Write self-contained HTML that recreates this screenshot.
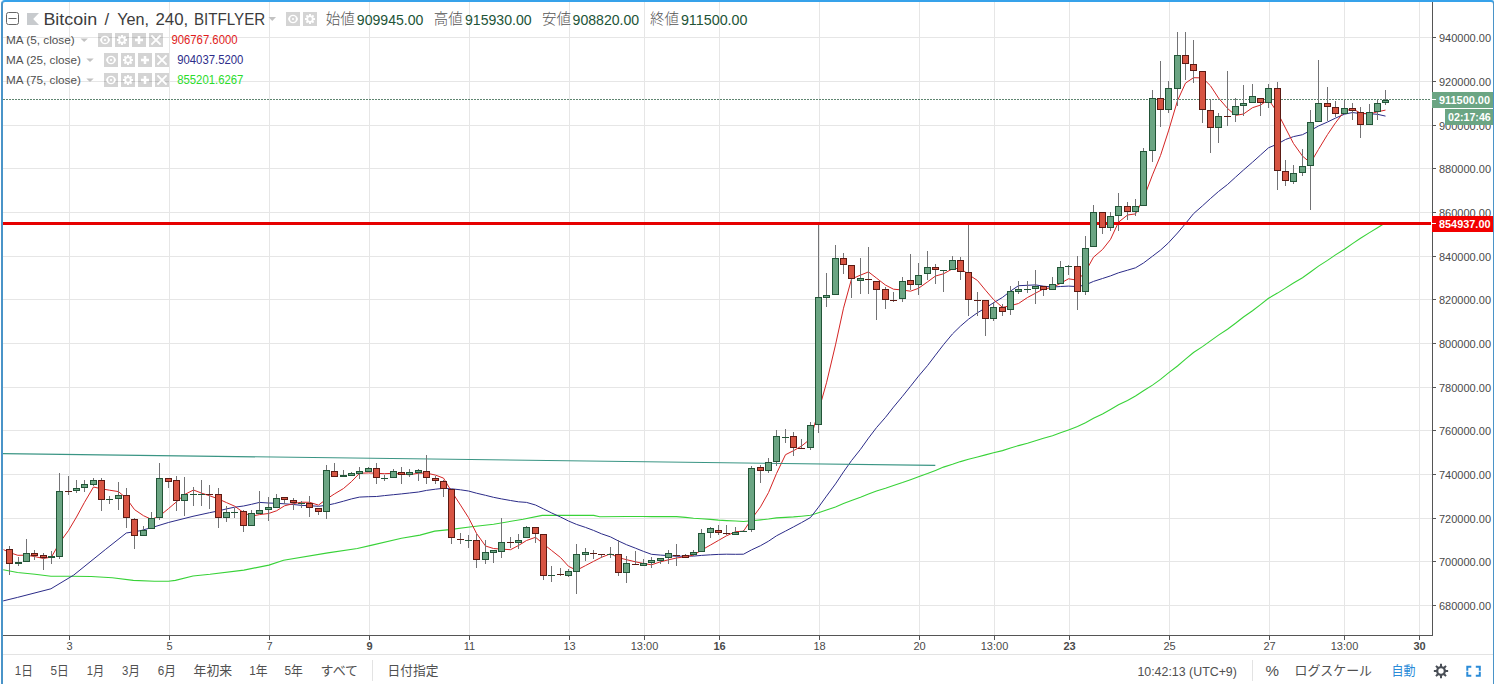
<!DOCTYPE html>
<html><head><meta charset="utf-8"><style>
html,body{margin:0;padding:0;background:#fff;width:1494px;height:684px;overflow:hidden}
#frame{position:absolute;left:1px;top:0;width:1494px;height:720px;box-sizing:border-box;border:2px solid #4a94c8;border-top-color:#36a2ea;border-radius:4px}
svg{position:absolute;left:0;top:0}
text{font-family:"Liberation Sans", "Noto Sans CJK JP", sans-serif}
.pl{font-size:11px;fill:#4a4a4a}
.tl{font-size:11px;fill:#4a4a4a}
.b{font-weight:bold}
</style></head><body>
<svg width="1494" height="684" viewBox="0 0 1494 684">
<path d="M69.5 0V635 M169.5 0V635 M269.5 0V635 M369.5 0V635 M469.5 0V635 M569.5 0V635 M644.5 0V635 M719.5 0V635 M819.5 0V635 M919.5 0V635 M994.5 0V635 M1069.5 0V635 M1169.5 0V635 M1269.5 0V635 M1344.5 0V635 M1419.5 0V635 M3 37.5H1432 M3 81.5H1432 M3 125.5H1432 M3 168.5H1432 M3 212.5H1432 M3 256.5H1432 M3 299.5H1432 M3 343.5H1432 M3 387.5H1432 M3 430.5H1432 M3 474.5H1432 M3 518.5H1432 M3 561.5H1432 M3 605.5H1432" stroke="#e6e6e6" stroke-width="1" fill="none"/>
<path d="M3.2 569.8 L17.5 572.5 L35.0 574.2 L50.9 576.3 L70.2 576.3 L91.2 576.5 L112.3 577.7 L133.3 580.4 L154.4 581.2 L168.4 581.2 L175.4 580.4 L193.0 576.0 L210.0 574.3 L243.9 570.1 L268.9 565.1 L283.6 560.3 L327.8 552.9 L357.3 548.5 L372.0 545.1 L401.5 538.2 L420.0 535.1 L434.7 531.1 L449.5 529.6 L471.5 526.7 L493.6 524.2 L523.1 519.3 L542.2 515.4 L567.3 515.4 L593.8 515.4 L599.7 516.8 L626.5 516.5 L635.5 516.5 L643.5 516.5 L651.5 516.6 L660.5 516.6 L668.5 516.6 L676.5 516.6 L685.5 517.4 L693.5 518.2 L701.5 518.8 L710.5 519.4 L718.5 520.1 L726.5 520.6 L735.5 521.0 L743.5 521.5 L751.5 520.8 L760.5 519.9 L768.5 519.0 L776.5 517.9 L785.5 517.4 L793.5 516.9 L801.5 516.2 L810.5 515.3 L818.5 512.7 L826.5 510.0 L835.5 506.9 L843.5 503.5 L851.5 500.4 L860.5 497.3 L868.5 494.0 L876.5 491.0 L885.5 488.2 L893.5 485.5 L902.5 482.6 L910.5 479.7 L918.5 476.7 L927.5 473.5 L935.5 470.4 L943.5 467.1 L952.5 464.3 L960.5 461.6 L968.5 459.3 L977.5 457.0 L985.5 454.9 L993.5 452.8 L1002.5 450.6 L1010.5 448.1 L1018.5 445.6 L1027.5 443.2 L1035.5 440.7 L1043.5 438.3 L1052.5 435.7 L1060.5 432.8 L1068.5 429.9 L1077.5 426.6 L1085.5 422.7 L1093.5 418.3 L1102.5 413.9 L1110.5 409.4 L1118.5 404.8 L1127.5 400.4 L1135.5 396.0 L1143.5 390.8 L1152.5 385.1 L1160.5 379.4 L1168.5 372.9 L1177.5 366.0 L1185.5 359.2 L1193.5 352.5 L1202.5 346.6 L1210.5 340.9 L1218.5 335.1 L1227.5 329.2 L1235.5 323.3 L1243.5 317.0 L1252.5 310.8 L1260.5 304.6 L1268.5 298.3 L1277.5 293.1 L1285.5 288.1 L1293.5 283.0 L1302.5 277.8 L1310.5 272.0 L1318.5 266.1 L1327.5 260.4 L1335.5 254.9 L1344.5 249.2 L1352.5 243.6 L1360.5 238.2 L1369.5 232.6 L1377.5 227.7 L1385.5 222.8" stroke="#38d238" stroke-width="1.1" fill="none"/>
<path d="M3.2 600.9 L17.5 597.4 L50.9 588.8 L73.7 575.1 L105.3 549.6 L126.3 533.0 L140.4 530.7 L154.4 526.8 L168.4 522.5 L193.0 516.3 L209.5 512.7 L218.5 510.9 L226.5 508.9 L234.5 507.2 L243.5 506.0 L251.5 504.3 L259.5 502.4 L268.5 503.0 L276.5 503.3 L284.5 503.8 L293.5 504.5 L301.5 505.4 L309.5 505.7 L318.5 506.3 L326.5 505.3 L334.5 503.6 L343.5 501.2 L351.5 498.9 L359.5 497.1 L368.5 496.7 L376.5 496.5 L384.5 495.6 L393.5 494.7 L401.5 493.9 L409.5 493.0 L418.5 492.0 L426.5 490.4 L435.5 489.2 L443.5 488.3 L451.5 488.8 L460.5 489.8 L468.5 491.0 L476.5 493.2 L485.5 495.3 L493.5 497.3 L501.5 498.9 L510.5 500.5 L518.5 501.8 L526.5 502.4 L535.5 505.0 L543.5 508.9 L551.5 512.9 L560.5 517.0 L568.5 521.0 L576.5 524.4 L585.5 527.4 L593.5 530.4 L601.5 533.8 L610.5 536.9 L618.5 541.0 L626.5 544.7 L635.5 548.2 L643.5 551.4 L651.5 554.3 L660.5 555.1 L668.5 555.6 L676.5 556.3 L685.5 556.1 L693.5 556.1 L701.5 555.4 L710.5 554.8 L718.5 554.4 L726.5 554.2 L735.5 554.3 L743.5 554.2 L751.5 549.9 L760.5 545.7 L768.5 541.2 L776.5 535.8 L785.5 531.1 L793.5 526.9 L801.5 522.6 L810.5 517.5 L818.5 507.2 L826.5 496.1 L835.5 483.9 L843.5 471.9 L851.5 460.6 L860.5 449.3 L868.5 438.1 L876.5 427.6 L885.5 417.3 L893.5 407.1 L902.5 396.3 L910.5 386.3 L918.5 376.2 L927.5 365.6 L935.5 355.1 L943.5 344.7 L952.5 333.9 L960.5 326.1 L968.5 319.2 L977.5 312.7 L985.5 308.0 L993.5 302.8 L1002.5 297.4 L1010.5 291.1 L1018.5 285.7 L1027.5 285.3 L1035.5 284.9 L1043.5 286.2 L1052.5 287.0 L1060.5 286.5 L1068.5 286.1 L1077.5 286.6 L1085.5 284.9 L1093.5 281.4 L1102.5 278.5 L1110.5 275.9 L1118.5 272.8 L1127.5 270.2 L1135.5 267.8 L1143.5 263.0 L1152.5 256.2 L1160.5 250.1 L1168.5 242.8 L1177.5 233.0 L1185.5 223.6 L1193.5 213.7 L1202.5 205.8 L1210.5 198.5 L1218.5 191.5 L1227.5 184.5 L1235.5 177.2 L1243.5 170.0 L1252.5 162.2 L1260.5 155.0 L1268.5 147.8 L1277.5 144.0 L1285.5 139.5 L1293.5 136.6 L1302.5 134.7 L1310.5 130.5 L1318.5 126.0 L1327.5 122.0 L1335.5 118.1 L1344.5 114.2 L1352.5 112.5 L1360.5 113.6 L1369.5 113.7 L1377.5 114.3 L1385.5 116.1" stroke="#2b2b88" stroke-width="1" fill="none"/>
<path d="M3.5 549.6 L9.5 552.5 L17.8 555.3 L26.2 555.2 L34.5 556.5 L43.5 558.5 L51.5 557.0 L59.5 542.8 L68.5 530.5 L76.5 517.0 L84.5 502.3 L93.5 487.0 L101.5 488.8 L109.5 490.2 L118.5 491.6 L126.5 498.5 L134.5 509.6 L143.5 515.7 L151.5 519.4 L159.5 516.0 L168.5 508.6 L176.5 501.8 L184.5 494.6 L193.5 490.0 L201.5 493.1 L209.5 495.7 L218.5 499.0 L226.5 502.6 L234.5 506.1 L243.5 512.5 L251.5 516.2 L259.5 514.6 L268.5 513.5 L276.5 510.8 L284.5 505.8 L293.5 503.6 L301.5 502.2 L309.5 502.3 L318.5 505.1 L326.5 499.1 L334.5 493.9 L343.5 488.5 L351.5 481.6 L359.5 473.3 L368.5 472.9 L376.5 473.3 L384.5 473.7 L393.5 473.3 L401.5 474.0 L409.5 474.8 L418.5 473.2 L426.5 473.1 L435.5 475.1 L443.5 478.1 L451.5 491.3 L460.5 505.1 L468.5 517.6 L476.5 533.4 L485.5 546.0 L493.5 548.5 L501.5 549.1 L510.5 549.7 L518.5 545.5 L526.5 540.5 L535.5 537.3 L543.5 544.0 L551.5 550.4 L560.5 557.5 L568.5 566.3 L576.5 570.3 L585.5 565.6 L593.5 561.4 L601.5 557.3 L610.5 553.8 L618.5 557.6 L626.5 559.7 L635.5 561.8 L643.5 563.5 L651.5 564.8 L660.5 561.8 L668.5 559.8 L676.5 558.0 L685.5 556.7 L693.5 555.1 L701.5 550.1 L710.5 545.0 L718.5 540.4 L726.5 535.8 L735.5 531.7 L743.5 531.2 L751.5 519.1 L760.5 506.9 L768.5 492.6 L776.5 473.5 L785.5 454.7 L793.5 450.7 L801.5 446.1 L810.5 438.8 L818.5 411.1 L826.5 382.8 L835.5 344.9 L843.5 308.2 L851.5 279.0 L860.5 275.1 L868.5 271.9 L876.5 278.1 L885.5 285.1 L893.5 289.2 L902.5 290.0 L910.5 291.2 L918.5 288.3 L927.5 281.9 L935.5 276.0 L943.5 273.8 L952.5 268.8 L960.5 268.2 L968.5 274.6 L977.5 280.5 L985.5 290.2 L993.5 299.5 L1002.5 307.4 L1010.5 305.7 L1018.5 303.5 L1027.5 297.5 L1035.5 293.2 L1043.5 288.9 L1052.5 287.6 L1060.5 283.3 L1068.5 278.8 L1077.5 280.2 L1085.5 271.7 L1093.5 257.2 L1102.5 249.5 L1110.5 239.4 L1118.5 222.2 L1127.5 215.0 L1135.5 213.9 L1143.5 198.5 L1152.5 174.9 L1160.5 155.5 L1168.5 130.9 L1177.5 100.6 L1185.5 83.1 L1193.5 77.7 L1202.5 77.9 L1210.5 85.8 L1218.5 98.0 L1227.5 108.4 L1235.5 115.4 L1243.5 114.0 L1252.5 107.7 L1260.5 105.1 L1268.5 99.5 L1277.5 112.5 L1285.5 128.1 L1293.5 143.5 L1302.5 156.1 L1310.5 162.9 L1318.5 149.4 L1327.5 134.6 L1335.5 122.8 L1344.5 111.2 L1352.5 108.7 L1360.5 113.1 L1369.5 114.0 L1377.5 111.8 L1385.5 110.1" stroke="#d42424" stroke-width="1" fill="none"/>
<path d="M3 453.6 L935.3 465.4" stroke="#3a9584" stroke-width="1.15" fill="none"/>
<path d="M3 99.5H1431" stroke="#5f8570" stroke-width="1" stroke-dasharray="2 1" fill="none"/>
<path d="M9.5 546V575 M18.5 557V566 M26.5 539V562 M34.5 550V560 M43.5 553V570 M51.5 551V564 M59.5 473V559 M68.5 476V495 M76.5 480V493 M84.5 480V492 M93.5 478V486 M101.5 478V511 M109.5 496V504 M118.5 482V510 M126.5 488V528 M134.5 518V549 M143.5 526V536 M151.5 512V529 M159.5 463V520 M168.5 478V488 M176.5 476V511 M184.5 477V516 M193.5 487V506 M201.5 480V506 M209.5 485V509 M218.5 488V528 M226.5 506V522 M234.5 508V518 M243.5 510V532 M251.5 510V526 M259.5 491V514 M268.5 497V521 M276.5 494V508 M284.5 497V504 M293.5 498V510 M301.5 501V508 M309.5 496V517 M318.5 508V515 M326.5 465V519 M334.5 463V477 M343.5 470V477 M351.5 472V475 M359.5 467V479 M368.5 467V472 M376.5 463V484 M384.5 475V481 M393.5 469V478 M401.5 467V484 M409.5 469V477 M418.5 469V481 M426.5 455V484 M435.5 476V484 M443.5 480V497 M451.5 489V544 M460.5 533V544 M468.5 535V548 M476.5 534V568 M485.5 540V564 M493.5 550V563 M501.5 518V558 M510.5 537V548 M518.5 534V549 M526.5 526V538 M535.5 527V543 M543.5 534V580 M551.5 566V582 M560.5 568V576 M568.5 569V577 M576.5 544V594 M585.5 548V561 M593.5 550V559 M601.5 554V558 M610.5 547V558 M618.5 540V576 M626.5 556V583 M635.5 551V565 M643.5 559V565 M651.5 557V568 M660.5 558V564 M668.5 550V564 M676.5 544V566 M685.5 554V558 M693.5 550V556 M701.5 529V552 M710.5 527V538 M718.5 525V535 M726.5 525V535 M735.5 527V534 M743.5 530V531 M751.5 466V532 M760.5 465V483 M768.5 458V473 M776.5 430V466 M785.5 429V443 M793.5 432V456 M801.5 439V448 M810.5 422V450 M818.5 224V433 M826.5 273V307 M835.5 245V295 M843.5 253V274 M851.5 265V298 M860.5 258V294 M868.5 247V294 M876.5 281V320 M885.5 287V309 M893.5 292V302 M902.5 277V302 M910.5 254V290 M918.5 263V295 M927.5 251V280 M935.5 264V284 M943.5 270V292 M952.5 256V270 M960.5 257V280 M968.5 224V316 M977.5 292V316 M985.5 300V336 M993.5 302V321 M1002.5 304V316 M1010.5 286V315 M1018.5 281V294 M1027.5 281V293 M1035.5 270V304 M1043.5 286V296 M1052.5 277V290 M1060.5 261V284 M1068.5 265V275 M1077.5 256V310 M1085.5 236V295 M1093.5 205V247 M1102.5 212V234 M1110.5 212V231 M1118.5 193V231 M1127.5 202V220 M1135.5 199V216 M1143.5 148V206 M1152.5 90V162 M1160.5 61V127 M1168.5 81V113 M1177.5 32V106 M1185.5 32V80 M1193.5 40V83 M1202.5 71V123 M1210.5 100V153 M1218.5 113V143 M1227.5 71V126 M1235.5 98V122 M1243.5 85V116 M1252.5 84V103 M1260.5 98V116 M1268.5 84V108 M1277.5 82V190 M1285.5 160V186 M1293.5 165V184 M1302.5 149V176 M1310.5 110V210 M1318.5 60V122 M1327.5 87V121 M1335.5 101V117 M1344.5 100V114 M1352.5 103V120 M1360.5 107V138 M1369.5 104V125 M1377.5 100V120 M1385.5 90V105" stroke="#737375" stroke-width="1" fill="none"/>
<rect x="3" y="222" width="1428" height="3" fill="#e60000"/>
<rect x="6.5" y="549.5" width="6" height="14" fill="#d75442" stroke="#5b1a13" stroke-width="1"/>
<rect x="15" y="562" width="7" height="2" fill="#225437"/>
<rect x="23.5" y="553.5" width="6" height="8" fill="#6ba583" stroke="#225437" stroke-width="1"/>
<rect x="31.5" y="553.5" width="6" height="2" fill="#d75442" stroke="#5b1a13" stroke-width="1"/>
<rect x="40.5" y="555.5" width="6" height="2" fill="#d75442" stroke="#5b1a13" stroke-width="1"/>
<rect x="48" y="556" width="7" height="2" fill="#225437"/>
<rect x="56.5" y="491.5" width="6" height="65" fill="#6ba583" stroke="#225437" stroke-width="1"/>
<rect x="65" y="491" width="7" height="1" fill="#5b1a13"/>
<rect x="73.5" y="488.5" width="6" height="2" fill="#6ba583" stroke="#225437" stroke-width="1"/>
<rect x="81.5" y="484.5" width="6" height="3" fill="#6ba583" stroke="#225437" stroke-width="1"/>
<rect x="90.5" y="480.5" width="6" height="4" fill="#6ba583" stroke="#225437" stroke-width="1"/>
<rect x="98.5" y="480.5" width="6" height="19" fill="#d75442" stroke="#5b1a13" stroke-width="1"/>
<rect x="106" y="499" width="7" height="1" fill="#225437"/>
<rect x="115.5" y="495.5" width="6" height="3" fill="#6ba583" stroke="#225437" stroke-width="1"/>
<rect x="123.5" y="495.5" width="6" height="22" fill="#d75442" stroke="#5b1a13" stroke-width="1"/>
<rect x="131.5" y="519.5" width="6" height="16" fill="#d75442" stroke="#5b1a13" stroke-width="1"/>
<rect x="140.5" y="530.5" width="6" height="5" fill="#6ba583" stroke="#225437" stroke-width="1"/>
<rect x="148.5" y="518.5" width="6" height="10" fill="#6ba583" stroke="#225437" stroke-width="1"/>
<rect x="156.5" y="478.5" width="6" height="39" fill="#6ba583" stroke="#225437" stroke-width="1"/>
<rect x="165.5" y="478.5" width="6" height="3" fill="#d75442" stroke="#5b1a13" stroke-width="1"/>
<rect x="173.5" y="480.5" width="6" height="20" fill="#d75442" stroke="#5b1a13" stroke-width="1"/>
<rect x="181.5" y="494.5" width="6" height="6" fill="#6ba583" stroke="#225437" stroke-width="1"/>
<rect x="190" y="494" width="7" height="1" fill="#225437"/>
<rect x="198" y="494" width="7" height="1" fill="#225437"/>
<rect x="206" y="494" width="7" height="1" fill="#5b1a13"/>
<rect x="215.5" y="494.5" width="6" height="23" fill="#d75442" stroke="#5b1a13" stroke-width="1"/>
<rect x="223.5" y="512.5" width="6" height="5" fill="#6ba583" stroke="#225437" stroke-width="1"/>
<rect x="231" y="512" width="7" height="1" fill="#225437"/>
<rect x="240.5" y="511.5" width="6" height="14" fill="#d75442" stroke="#5b1a13" stroke-width="1"/>
<rect x="248.5" y="513.5" width="6" height="12" fill="#6ba583" stroke="#225437" stroke-width="1"/>
<rect x="256.5" y="510.5" width="6" height="3" fill="#6ba583" stroke="#225437" stroke-width="1"/>
<rect x="265.5" y="507.5" width="6" height="2" fill="#6ba583" stroke="#225437" stroke-width="1"/>
<rect x="273.5" y="498.5" width="6" height="9" fill="#6ba583" stroke="#225437" stroke-width="1"/>
<rect x="281.5" y="497.5" width="6" height="2" fill="#d75442" stroke="#5b1a13" stroke-width="1"/>
<rect x="290.5" y="500.5" width="6" height="2" fill="#d75442" stroke="#5b1a13" stroke-width="1"/>
<rect x="298" y="503" width="7" height="1" fill="#225437"/>
<rect x="306.5" y="503.5" width="6" height="4" fill="#d75442" stroke="#5b1a13" stroke-width="1"/>
<rect x="315.5" y="508.5" width="6" height="3" fill="#d75442" stroke="#5b1a13" stroke-width="1"/>
<rect x="323.5" y="470.5" width="6" height="41" fill="#6ba583" stroke="#225437" stroke-width="1"/>
<rect x="331.5" y="471.5" width="6" height="5" fill="#d75442" stroke="#5b1a13" stroke-width="1"/>
<rect x="340" y="475" width="7" height="2" fill="#225437"/>
<rect x="348.5" y="473.5" width="6" height="2" fill="#6ba583" stroke="#225437" stroke-width="1"/>
<rect x="356.5" y="471.5" width="6" height="2" fill="#6ba583" stroke="#225437" stroke-width="1"/>
<rect x="365.5" y="468.5" width="6" height="3" fill="#6ba583" stroke="#225437" stroke-width="1"/>
<rect x="373.5" y="468.5" width="6" height="9" fill="#d75442" stroke="#5b1a13" stroke-width="1"/>
<rect x="381" y="478" width="7" height="1" fill="#225437"/>
<rect x="390.5" y="471.5" width="6" height="6" fill="#6ba583" stroke="#225437" stroke-width="1"/>
<rect x="398.5" y="472.5" width="6" height="2" fill="#d75442" stroke="#5b1a13" stroke-width="1"/>
<rect x="406.5" y="472.5" width="6" height="2" fill="#6ba583" stroke="#225437" stroke-width="1"/>
<rect x="415.5" y="470.5" width="6" height="2" fill="#6ba583" stroke="#225437" stroke-width="1"/>
<rect x="423.5" y="471.5" width="6" height="6" fill="#d75442" stroke="#5b1a13" stroke-width="1"/>
<rect x="432.5" y="478.5" width="6" height="2" fill="#d75442" stroke="#5b1a13" stroke-width="1"/>
<rect x="440.5" y="481.5" width="6" height="7" fill="#d75442" stroke="#5b1a13" stroke-width="1"/>
<rect x="448.5" y="489.5" width="6" height="48" fill="#d75442" stroke="#5b1a13" stroke-width="1"/>
<rect x="457" y="539" width="7" height="1" fill="#5b1a13"/>
<rect x="465" y="540" width="7" height="1" fill="#225437"/>
<rect x="473.5" y="540.5" width="6" height="19" fill="#d75442" stroke="#5b1a13" stroke-width="1"/>
<rect x="482.5" y="552.5" width="6" height="7" fill="#6ba583" stroke="#225437" stroke-width="1"/>
<rect x="490.5" y="550.5" width="6" height="2" fill="#6ba583" stroke="#225437" stroke-width="1"/>
<rect x="498.5" y="542.5" width="6" height="9" fill="#6ba583" stroke="#225437" stroke-width="1"/>
<rect x="507" y="542" width="7" height="1" fill="#5b1a13"/>
<rect x="515.5" y="540.5" width="6" height="2" fill="#6ba583" stroke="#225437" stroke-width="1"/>
<rect x="523.5" y="527.5" width="6" height="10" fill="#6ba583" stroke="#225437" stroke-width="1"/>
<rect x="532.5" y="527.5" width="6" height="6" fill="#d75442" stroke="#5b1a13" stroke-width="1"/>
<rect x="540.5" y="534.5" width="6" height="41" fill="#d75442" stroke="#5b1a13" stroke-width="1"/>
<rect x="548" y="575" width="7" height="1" fill="#225437"/>
<rect x="557" y="574" width="7" height="1" fill="#5b1a13"/>
<rect x="565.5" y="571.5" width="6" height="4" fill="#6ba583" stroke="#225437" stroke-width="1"/>
<rect x="573.5" y="554.5" width="6" height="17" fill="#6ba583" stroke="#225437" stroke-width="1"/>
<rect x="582.5" y="552.5" width="6" height="2" fill="#6ba583" stroke="#225437" stroke-width="1"/>
<rect x="590" y="553" width="7" height="1" fill="#5b1a13"/>
<rect x="598" y="554" width="7" height="1" fill="#5b1a13"/>
<rect x="607" y="554" width="7" height="1" fill="#225437"/>
<rect x="615.5" y="554.5" width="6" height="18" fill="#d75442" stroke="#5b1a13" stroke-width="1"/>
<rect x="623.5" y="563.5" width="6" height="9" fill="#6ba583" stroke="#225437" stroke-width="1"/>
<rect x="632" y="564" width="7" height="1" fill="#5b1a13"/>
<rect x="640.5" y="563.5" width="6" height="2" fill="#6ba583" stroke="#225437" stroke-width="1"/>
<rect x="648.5" y="560.5" width="6" height="2" fill="#6ba583" stroke="#225437" stroke-width="1"/>
<rect x="657.5" y="558.5" width="6" height="2" fill="#6ba583" stroke="#225437" stroke-width="1"/>
<rect x="665.5" y="553.5" width="6" height="4" fill="#6ba583" stroke="#225437" stroke-width="1"/>
<rect x="673" y="555" width="7" height="1" fill="#5b1a13"/>
<rect x="682.5" y="555.5" width="6" height="2" fill="#d75442" stroke="#5b1a13" stroke-width="1"/>
<rect x="690.5" y="552.5" width="6" height="2" fill="#6ba583" stroke="#225437" stroke-width="1"/>
<rect x="698.5" y="533.5" width="6" height="18" fill="#6ba583" stroke="#225437" stroke-width="1"/>
<rect x="707.5" y="528.5" width="6" height="4" fill="#6ba583" stroke="#225437" stroke-width="1"/>
<rect x="715.5" y="530.5" width="6" height="2" fill="#d75442" stroke="#5b1a13" stroke-width="1"/>
<rect x="723" y="533" width="7" height="1" fill="#5b1a13"/>
<rect x="732.5" y="532.5" width="6" height="2" fill="#6ba583" stroke="#225437" stroke-width="1"/>
<rect x="740" y="531" width="7" height="1" fill="#225437"/>
<rect x="748.5" y="468.5" width="6" height="61" fill="#6ba583" stroke="#225437" stroke-width="1"/>
<rect x="757.5" y="467.5" width="6" height="3" fill="#d75442" stroke="#5b1a13" stroke-width="1"/>
<rect x="765.5" y="462.5" width="6" height="8" fill="#6ba583" stroke="#225437" stroke-width="1"/>
<rect x="773.5" y="436.5" width="6" height="25" fill="#6ba583" stroke="#225437" stroke-width="1"/>
<rect x="782" y="437" width="7" height="1" fill="#225437"/>
<rect x="790.5" y="436.5" width="6" height="11" fill="#d75442" stroke="#5b1a13" stroke-width="1"/>
<rect x="798" y="448" width="7" height="1" fill="#5b1a13"/>
<rect x="807.5" y="425.5" width="6" height="22" fill="#6ba583" stroke="#225437" stroke-width="1"/>
<rect x="815.5" y="297.5" width="6" height="127" fill="#6ba583" stroke="#225437" stroke-width="1"/>
<rect x="823.5" y="295.5" width="6" height="2" fill="#6ba583" stroke="#225437" stroke-width="1"/>
<rect x="832.5" y="258.5" width="6" height="36" fill="#6ba583" stroke="#225437" stroke-width="1"/>
<rect x="840.5" y="258.5" width="6" height="6" fill="#d75442" stroke="#5b1a13" stroke-width="1"/>
<rect x="848.5" y="265.5" width="6" height="13" fill="#d75442" stroke="#5b1a13" stroke-width="1"/>
<rect x="857.5" y="278.5" width="6" height="2" fill="#6ba583" stroke="#225437" stroke-width="1"/>
<rect x="865" y="279" width="7" height="1" fill="#5b1a13"/>
<rect x="873.5" y="281.5" width="6" height="8" fill="#d75442" stroke="#5b1a13" stroke-width="1"/>
<rect x="882.5" y="289.5" width="6" height="10" fill="#d75442" stroke="#5b1a13" stroke-width="1"/>
<rect x="890" y="300" width="7" height="1" fill="#5b1a13"/>
<rect x="899.5" y="281.5" width="6" height="17" fill="#6ba583" stroke="#225437" stroke-width="1"/>
<rect x="907.5" y="280.5" width="6" height="4" fill="#d75442" stroke="#5b1a13" stroke-width="1"/>
<rect x="915.5" y="275.5" width="6" height="9" fill="#6ba583" stroke="#225437" stroke-width="1"/>
<rect x="924.5" y="267.5" width="6" height="6" fill="#6ba583" stroke="#225437" stroke-width="1"/>
<rect x="932.5" y="267.5" width="6" height="2" fill="#d75442" stroke="#5b1a13" stroke-width="1"/>
<rect x="940" y="270" width="7" height="1" fill="#225437"/>
<rect x="949.5" y="260.5" width="6" height="9" fill="#6ba583" stroke="#225437" stroke-width="1"/>
<rect x="957.5" y="260.5" width="6" height="11" fill="#d75442" stroke="#5b1a13" stroke-width="1"/>
<rect x="965.5" y="272.5" width="6" height="27" fill="#d75442" stroke="#5b1a13" stroke-width="1"/>
<rect x="974" y="300" width="7" height="1" fill="#5b1a13"/>
<rect x="982.5" y="300.5" width="6" height="18" fill="#d75442" stroke="#5b1a13" stroke-width="1"/>
<rect x="990.5" y="307.5" width="6" height="11" fill="#6ba583" stroke="#225437" stroke-width="1"/>
<rect x="999.5" y="307.5" width="6" height="4" fill="#d75442" stroke="#5b1a13" stroke-width="1"/>
<rect x="1007.5" y="291.5" width="6" height="18" fill="#6ba583" stroke="#225437" stroke-width="1"/>
<rect x="1015.5" y="289.5" width="6" height="2" fill="#6ba583" stroke="#225437" stroke-width="1"/>
<rect x="1024" y="289" width="7" height="1" fill="#225437"/>
<rect x="1032.5" y="286.5" width="6" height="2" fill="#6ba583" stroke="#225437" stroke-width="1"/>
<rect x="1040.5" y="286.5" width="6" height="3" fill="#d75442" stroke="#5b1a13" stroke-width="1"/>
<rect x="1049.5" y="284.5" width="6" height="5" fill="#6ba583" stroke="#225437" stroke-width="1"/>
<rect x="1057.5" y="267.5" width="6" height="16" fill="#6ba583" stroke="#225437" stroke-width="1"/>
<rect x="1065" y="266" width="7" height="1" fill="#225437"/>
<rect x="1074.5" y="266.5" width="6" height="25" fill="#d75442" stroke="#5b1a13" stroke-width="1"/>
<rect x="1082.5" y="248.5" width="6" height="43" fill="#6ba583" stroke="#225437" stroke-width="1"/>
<rect x="1090.5" y="212.5" width="6" height="34" fill="#6ba583" stroke="#225437" stroke-width="1"/>
<rect x="1099.5" y="212.5" width="6" height="15" fill="#d75442" stroke="#5b1a13" stroke-width="1"/>
<rect x="1107.5" y="216.5" width="6" height="11" fill="#6ba583" stroke="#225437" stroke-width="1"/>
<rect x="1115.5" y="206.5" width="6" height="9" fill="#6ba583" stroke="#225437" stroke-width="1"/>
<rect x="1124.5" y="206.5" width="6" height="5" fill="#d75442" stroke="#5b1a13" stroke-width="1"/>
<rect x="1132.5" y="206.5" width="6" height="5" fill="#6ba583" stroke="#225437" stroke-width="1"/>
<rect x="1140.5" y="151.5" width="6" height="54" fill="#6ba583" stroke="#225437" stroke-width="1"/>
<rect x="1149.5" y="98.5" width="6" height="52" fill="#6ba583" stroke="#225437" stroke-width="1"/>
<rect x="1157.5" y="98.5" width="6" height="11" fill="#d75442" stroke="#5b1a13" stroke-width="1"/>
<rect x="1165.5" y="88.5" width="6" height="21" fill="#6ba583" stroke="#225437" stroke-width="1"/>
<rect x="1174.5" y="55.5" width="6" height="33" fill="#6ba583" stroke="#225437" stroke-width="1"/>
<rect x="1182.5" y="55.5" width="6" height="8" fill="#d75442" stroke="#5b1a13" stroke-width="1"/>
<rect x="1190.5" y="64.5" width="6" height="6" fill="#d75442" stroke="#5b1a13" stroke-width="1"/>
<rect x="1199.5" y="71.5" width="6" height="38" fill="#d75442" stroke="#5b1a13" stroke-width="1"/>
<rect x="1207.5" y="110.5" width="6" height="17" fill="#d75442" stroke="#5b1a13" stroke-width="1"/>
<rect x="1215.5" y="116.5" width="6" height="11" fill="#6ba583" stroke="#225437" stroke-width="1"/>
<rect x="1224" y="116" width="7" height="1" fill="#5b1a13"/>
<rect x="1232.5" y="106.5" width="6" height="8" fill="#6ba583" stroke="#225437" stroke-width="1"/>
<rect x="1240.5" y="103.5" width="6" height="2" fill="#6ba583" stroke="#225437" stroke-width="1"/>
<rect x="1249.5" y="96.5" width="6" height="6" fill="#6ba583" stroke="#225437" stroke-width="1"/>
<rect x="1257.5" y="98.5" width="6" height="4" fill="#d75442" stroke="#5b1a13" stroke-width="1"/>
<rect x="1265.5" y="88.5" width="6" height="14" fill="#6ba583" stroke="#225437" stroke-width="1"/>
<rect x="1274.5" y="88.5" width="6" height="82" fill="#d75442" stroke="#5b1a13" stroke-width="1"/>
<rect x="1282.5" y="171.5" width="6" height="9" fill="#d75442" stroke="#5b1a13" stroke-width="1"/>
<rect x="1290.5" y="173.5" width="6" height="8" fill="#6ba583" stroke="#225437" stroke-width="1"/>
<rect x="1299.5" y="166.5" width="6" height="6" fill="#6ba583" stroke="#225437" stroke-width="1"/>
<rect x="1307.5" y="122.5" width="6" height="43" fill="#6ba583" stroke="#225437" stroke-width="1"/>
<rect x="1315.5" y="103.5" width="6" height="18" fill="#6ba583" stroke="#225437" stroke-width="1"/>
<rect x="1324.5" y="103.5" width="6" height="3" fill="#d75442" stroke="#5b1a13" stroke-width="1"/>
<rect x="1332.5" y="107.5" width="6" height="6" fill="#d75442" stroke="#5b1a13" stroke-width="1"/>
<rect x="1341.5" y="108.5" width="6" height="5" fill="#6ba583" stroke="#225437" stroke-width="1"/>
<rect x="1349.5" y="108.5" width="6" height="2" fill="#d75442" stroke="#5b1a13" stroke-width="1"/>
<rect x="1357.5" y="112.5" width="6" height="12" fill="#d75442" stroke="#5b1a13" stroke-width="1"/>
<rect x="1366.5" y="112.5" width="6" height="12" fill="#6ba583" stroke="#225437" stroke-width="1"/>
<rect x="1374.5" y="103.5" width="6" height="8" fill="#6ba583" stroke="#225437" stroke-width="1"/>
<rect x="1382.5" y="100.5" width="6" height="2" fill="#6ba583" stroke="#225437" stroke-width="1"/>
<rect x="1432" y="0" width="1" height="636" fill="#555555"/>
<rect x="3" y="635" width="1430" height="1" fill="#555555"/>
<rect x="1433" y="37" width="3" height="1" fill="#555555"/>
<text x="1439" y="41.5" class="pl">940000.00</text>
<rect x="1433" y="81" width="3" height="1" fill="#555555"/>
<text x="1439" y="85.5" class="pl">920000.00</text>
<rect x="1433" y="125" width="3" height="1" fill="#555555"/>
<text x="1439" y="129.5" class="pl">900000.00</text>
<rect x="1433" y="168" width="3" height="1" fill="#555555"/>
<text x="1439" y="172.5" class="pl">880000.00</text>
<rect x="1433" y="212" width="3" height="1" fill="#555555"/>
<text x="1439" y="216.5" class="pl">860000.00</text>
<rect x="1433" y="256" width="3" height="1" fill="#555555"/>
<text x="1439" y="260.5" class="pl">840000.00</text>
<rect x="1433" y="299" width="3" height="1" fill="#555555"/>
<text x="1439" y="303.5" class="pl">820000.00</text>
<rect x="1433" y="343" width="3" height="1" fill="#555555"/>
<text x="1439" y="347.5" class="pl">800000.00</text>
<rect x="1433" y="387" width="3" height="1" fill="#555555"/>
<text x="1439" y="391.5" class="pl">780000.00</text>
<rect x="1433" y="430" width="3" height="1" fill="#555555"/>
<text x="1439" y="434.5" class="pl">760000.00</text>
<rect x="1433" y="474" width="3" height="1" fill="#555555"/>
<text x="1439" y="478.5" class="pl">740000.00</text>
<rect x="1433" y="518" width="3" height="1" fill="#555555"/>
<text x="1439" y="522.5" class="pl">720000.00</text>
<rect x="1433" y="561" width="3" height="1" fill="#555555"/>
<text x="1439" y="565.5" class="pl">700000.00</text>
<rect x="1433" y="605" width="3" height="1" fill="#555555"/>
<text x="1439" y="609.5" class="pl">680000.00</text>
<rect x="69" y="636" width="1" height="4" fill="#555555"/>
<text x="69.5" y="650" class="tl" text-anchor="middle">3</text>
<rect x="169" y="636" width="1" height="4" fill="#555555"/>
<text x="169.5" y="650" class="tl" text-anchor="middle">5</text>
<rect x="269" y="636" width="1" height="4" fill="#555555"/>
<text x="269.5" y="650" class="tl" text-anchor="middle">7</text>
<rect x="369" y="636" width="1" height="4" fill="#555555"/>
<text x="369.5" y="650" class="tl b" text-anchor="middle">9</text>
<rect x="469" y="636" width="1" height="4" fill="#555555"/>
<text x="469.5" y="650" class="tl" text-anchor="middle">11</text>
<rect x="569" y="636" width="1" height="4" fill="#555555"/>
<text x="569.5" y="650" class="tl" text-anchor="middle">13</text>
<rect x="644" y="636" width="1" height="4" fill="#555555"/>
<text x="644.5" y="650" class="tl" text-anchor="middle">13:00</text>
<rect x="719" y="636" width="1" height="4" fill="#555555"/>
<text x="719.5" y="650" class="tl b" text-anchor="middle">16</text>
<rect x="819" y="636" width="1" height="4" fill="#555555"/>
<text x="819.5" y="650" class="tl" text-anchor="middle">18</text>
<rect x="919" y="636" width="1" height="4" fill="#555555"/>
<text x="919.5" y="650" class="tl" text-anchor="middle">20</text>
<rect x="994" y="636" width="1" height="4" fill="#555555"/>
<text x="994.5" y="650" class="tl" text-anchor="middle">13:00</text>
<rect x="1069" y="636" width="1" height="4" fill="#555555"/>
<text x="1069.5" y="650" class="tl b" text-anchor="middle">23</text>
<rect x="1169" y="636" width="1" height="4" fill="#555555"/>
<text x="1169.5" y="650" class="tl" text-anchor="middle">25</text>
<rect x="1269" y="636" width="1" height="4" fill="#555555"/>
<text x="1269.5" y="650" class="tl" text-anchor="middle">27</text>
<rect x="1344" y="636" width="1" height="4" fill="#555555"/>
<text x="1344.5" y="650" class="tl" text-anchor="middle">13:00</text>
<rect x="1419" y="636" width="1" height="4" fill="#555555"/>
<text x="1419.5" y="650" class="tl b" text-anchor="middle">30</text>
<rect x="6.5" y="12.5" width="12" height="12" rx="2" fill="#fff" stroke="#666" stroke-width="1"/>
<path d="M8.5 18.5H16.5" stroke="#666" stroke-width="1"/>
<path d="M27 13H39L33.2 19L39 25H27Z" fill="#c8cbce"/>
<text x="43.4" y="25" font-size="16.7" fill="#3c3c3c" textLength="53.8" lengthAdjust="spacingAndGlyphs">Bitcoin</text>
<text x="104.4" y="25" font-size="16.7" fill="#3c3c3c">/</text>
<text x="117.2" y="25" font-size="16.7" fill="#3c3c3c" textLength="31.8" lengthAdjust="spacingAndGlyphs">Yen,</text>
<text x="155.5" y="25" font-size="16.7" fill="#3c3c3c" textLength="32.8" lengthAdjust="spacingAndGlyphs">240,</text>
<text x="193.9" y="25" font-size="16.7" fill="#3c3c3c" textLength="71.3" lengthAdjust="spacingAndGlyphs">BITFLYER</text>
<path d="M268.5 17L276 17L272.25 21Z" fill="#c2c2c2"/>
<rect x="286" y="12" width="14" height="14" fill="rgba(0,0,0,0.17)"/><path d="M287.9 19C289.8 13.4 296.2 13.4 298.1 19C296.2 24.6 289.8 24.6 287.9 19Z" fill="#fff"/><circle cx="293" cy="19" r="2" fill="none" stroke="#d4d4d4" stroke-width="1.8"/>
<rect x="303" y="12" width="14" height="14" fill="rgba(0,0,0,0.17)"/><path d="M313.53 17.91 L315.02 18.09 L315.02 19.91 L313.53 20.09 L313.42 20.42 L313.27 20.73 L314.19 21.90 L312.90 23.19 L311.73 22.27 L311.42 22.42 L311.09 22.53 L310.91 24.02 L309.09 24.02 L308.91 22.53 L308.58 22.42 L308.27 22.27 L307.10 23.19 L305.81 21.90 L306.73 20.73 L306.58 20.42 L306.47 20.09 L304.98 19.91 L304.98 18.09 L306.47 17.91 L306.58 17.58 L306.73 17.27 L305.81 16.10 L307.10 14.81 L308.27 15.73 L308.58 15.58 L308.91 15.47 L309.09 13.98 L310.91 13.98 L311.09 15.47 L311.42 15.58 L311.73 15.73 L312.90 14.81 L314.19 16.10 L313.27 17.27 L313.42 17.58Z" fill="#fff"/><circle cx="310" cy="19" r="1.9" fill="#d4d4d4"/>
<text x="325.8" y="24.3" font-size="14.5" fill="#555" textLength="29" lengthAdjust="spacingAndGlyphs" font-weight="300">始値</text>
<text x="356.8" y="24.6" font-size="14.8" fill="#225437" textLength="66.6" lengthAdjust="spacingAndGlyphs">909945.00</text>
<text x="433.7" y="24.3" font-size="14.5" fill="#555" textLength="29" lengthAdjust="spacingAndGlyphs" font-weight="300">高値</text>
<text x="465" y="24.6" font-size="14.8" fill="#225437" textLength="66.6" lengthAdjust="spacingAndGlyphs">915930.00</text>
<text x="542" y="24.3" font-size="14.5" fill="#555" textLength="29" lengthAdjust="spacingAndGlyphs" font-weight="300">安値</text>
<text x="572.6" y="24.6" font-size="14.8" fill="#225437" textLength="66.6" lengthAdjust="spacingAndGlyphs">908820.00</text>
<text x="650.1" y="24.3" font-size="14.5" fill="#555" textLength="29" lengthAdjust="spacingAndGlyphs" font-weight="300">終値</text>
<text x="680.9" y="24.6" font-size="14.8" fill="#225437" textLength="66.6" lengthAdjust="spacingAndGlyphs">911500.00</text>
<text x="6" y="43.5" font-size="11.6" fill="#505050" textLength="68.7" lengthAdjust="spacingAndGlyphs">MA (5, close)</text>
<path d="M80.5 38.5L87.9 38.5L84.2 42.0Z" fill="#c2c2c2"/>
<rect x="98" y="33.0" width="14" height="14" fill="rgba(0,0,0,0.17)"/><path d="M99.9 40.0C101.8 34.4 108.2 34.4 110.1 40.0C108.2 45.6 101.8 45.6 99.9 40.0Z" fill="#fff"/><circle cx="105" cy="40.0" r="2" fill="none" stroke="#d4d4d4" stroke-width="1.8"/>
<rect x="115" y="33.0" width="14" height="14" fill="rgba(0,0,0,0.17)"/><path d="M125.53 38.91 L127.02 39.09 L127.02 40.91 L125.53 41.09 L125.42 41.42 L125.27 41.73 L126.19 42.90 L124.90 44.19 L123.73 43.27 L123.42 43.42 L123.09 43.53 L122.91 45.02 L121.09 45.02 L120.91 43.53 L120.58 43.42 L120.27 43.27 L119.10 44.19 L117.81 42.90 L118.73 41.73 L118.58 41.42 L118.47 41.09 L116.98 40.91 L116.98 39.09 L118.47 38.91 L118.58 38.58 L118.73 38.27 L117.81 37.10 L119.10 35.81 L120.27 36.73 L120.58 36.58 L120.91 36.47 L121.09 34.98 L122.91 34.98 L123.09 36.47 L123.42 36.58 L123.73 36.73 L124.90 35.81 L126.19 37.10 L125.27 38.27 L125.42 38.58Z" fill="#fff"/><circle cx="122" cy="40.0" r="1.9" fill="#d4d4d4"/>
<rect x="132" y="33.0" width="14" height="14" fill="rgba(0,0,0,0.17)"/><path d="M135 40.0H143M139 36.0V44.0" stroke="#fff" stroke-width="2.5"/>
<rect x="149" y="33.0" width="14" height="14" fill="rgba(0,0,0,0.17)"/><path d="M151.4 35.4L160.6 44.6M160.6 35.4L151.4 44.6" stroke="#fff" stroke-width="1.9"/>
<text x="171.4" y="43.8" font-size="12.4" fill="#e01b1b" textLength="66.2" lengthAdjust="spacingAndGlyphs">906767.6000</text>
<text x="6" y="63.5" font-size="11.6" fill="#505050" textLength="74.8" lengthAdjust="spacingAndGlyphs">MA (25, close)</text>
<path d="M86.3 58.5L93.7 58.5L90.0 62.0Z" fill="#c2c2c2"/>
<rect x="104" y="53.0" width="14" height="14" fill="rgba(0,0,0,0.17)"/><path d="M105.9 60.0C107.8 54.4 114.2 54.4 116.1 60.0C114.2 65.6 107.8 65.6 105.9 60.0Z" fill="#fff"/><circle cx="111" cy="60.0" r="2" fill="none" stroke="#d4d4d4" stroke-width="1.8"/>
<rect x="121" y="53.0" width="14" height="14" fill="rgba(0,0,0,0.17)"/><path d="M131.53 58.91 L133.02 59.09 L133.02 60.91 L131.53 61.09 L131.42 61.42 L131.27 61.73 L132.19 62.90 L130.90 64.19 L129.73 63.27 L129.42 63.42 L129.09 63.53 L128.91 65.02 L127.09 65.02 L126.91 63.53 L126.58 63.42 L126.27 63.27 L125.10 64.19 L123.81 62.90 L124.73 61.73 L124.58 61.42 L124.47 61.09 L122.98 60.91 L122.98 59.09 L124.47 58.91 L124.58 58.58 L124.73 58.27 L123.81 57.10 L125.10 55.81 L126.27 56.73 L126.58 56.58 L126.91 56.47 L127.09 54.98 L128.91 54.98 L129.09 56.47 L129.42 56.58 L129.73 56.73 L130.90 55.81 L132.19 57.10 L131.27 58.27 L131.42 58.58Z" fill="#fff"/><circle cx="128" cy="60.0" r="1.9" fill="#d4d4d4"/>
<rect x="138" y="53.0" width="14" height="14" fill="rgba(0,0,0,0.17)"/><path d="M141 60.0H149M145 56.0V64.0" stroke="#fff" stroke-width="2.5"/>
<rect x="155" y="53.0" width="14" height="14" fill="rgba(0,0,0,0.17)"/><path d="M157.4 55.4L166.6 64.6M166.6 55.4L157.4 64.6" stroke="#fff" stroke-width="1.9"/>
<text x="177.2" y="63.8" font-size="12.4" fill="#2d2d8a" textLength="66.2" lengthAdjust="spacingAndGlyphs">904037.5200</text>
<text x="6" y="83.5" font-size="11.6" fill="#505050" textLength="74.8" lengthAdjust="spacingAndGlyphs">MA (75, close)</text>
<path d="M86.3 78.5L93.7 78.5L90.0 82.0Z" fill="#c2c2c2"/>
<rect x="104" y="73.0" width="14" height="14" fill="rgba(0,0,0,0.17)"/><path d="M105.9 80.0C107.8 74.4 114.2 74.4 116.1 80.0C114.2 85.6 107.8 85.6 105.9 80.0Z" fill="#fff"/><circle cx="111" cy="80.0" r="2" fill="none" stroke="#d4d4d4" stroke-width="1.8"/>
<rect x="121" y="73.0" width="14" height="14" fill="rgba(0,0,0,0.17)"/><path d="M131.53 78.91 L133.02 79.09 L133.02 80.91 L131.53 81.09 L131.42 81.42 L131.27 81.73 L132.19 82.90 L130.90 84.19 L129.73 83.27 L129.42 83.42 L129.09 83.53 L128.91 85.02 L127.09 85.02 L126.91 83.53 L126.58 83.42 L126.27 83.27 L125.10 84.19 L123.81 82.90 L124.73 81.73 L124.58 81.42 L124.47 81.09 L122.98 80.91 L122.98 79.09 L124.47 78.91 L124.58 78.58 L124.73 78.27 L123.81 77.10 L125.10 75.81 L126.27 76.73 L126.58 76.58 L126.91 76.47 L127.09 74.98 L128.91 74.98 L129.09 76.47 L129.42 76.58 L129.73 76.73 L130.90 75.81 L132.19 77.10 L131.27 78.27 L131.42 78.58Z" fill="#fff"/><circle cx="128" cy="80.0" r="1.9" fill="#d4d4d4"/>
<rect x="138" y="73.0" width="14" height="14" fill="rgba(0,0,0,0.17)"/><path d="M141 80.0H149M145 76.0V84.0" stroke="#fff" stroke-width="2.5"/>
<rect x="155" y="73.0" width="14" height="14" fill="rgba(0,0,0,0.17)"/><path d="M157.4 75.4L166.6 84.6M166.6 75.4L157.4 84.6" stroke="#fff" stroke-width="1.9"/>
<text x="177.2" y="83.8" font-size="12.4" fill="#2bdc2b" textLength="66.2" lengthAdjust="spacingAndGlyphs">855201.6267</text>
<rect x="1432" y="92" width="62" height="16" fill="#6ba583"/>
<rect x="1432" y="99" width="4" height="1" fill="#fff"/>
<text x="1439" y="104" font-size="11.3" fill="#fff" textLength="51" lengthAdjust="spacingAndGlyphs" font-weight="bold">911500.00</text>
<rect x="1445" y="109" width="49" height="16" fill="#6ba583"/>
<text x="1448" y="121" font-size="11.3" fill="#fff" textLength="42.8" lengthAdjust="spacingAndGlyphs" font-weight="bold">02:17:46</text>
<rect x="1432" y="216" width="62" height="16" fill="#f20000"/>
<rect x="1432" y="223" width="4" height="1" fill="#fff"/>
<text x="1439" y="228" font-size="11.3" fill="#fff" textLength="51.5" lengthAdjust="spacingAndGlyphs" font-weight="bold">854937.00</text>
<rect x="3" y="654" width="1490" height="1" fill="#e3e3e3"/>
<text x="14.8" y="674.8" font-size="13" fill="#505050" textLength="18.1" lengthAdjust="spacingAndGlyphs">1日</text>
<text x="50.6" y="674.8" font-size="13" fill="#505050" textLength="18.2" lengthAdjust="spacingAndGlyphs">5日</text>
<text x="86.7" y="674.8" font-size="13" fill="#505050" textLength="17.4" lengthAdjust="spacingAndGlyphs">1月</text>
<text x="122.1" y="674.8" font-size="13" fill="#505050" textLength="17.7" lengthAdjust="spacingAndGlyphs">3月</text>
<text x="157.7" y="674.8" font-size="13" fill="#505050" textLength="18.2" lengthAdjust="spacingAndGlyphs">6月</text>
<text x="193.6" y="674.8" font-size="13" fill="#505050" textLength="38.5" lengthAdjust="spacingAndGlyphs">年初来</text>
<text x="249.3" y="674.8" font-size="13" fill="#505050" textLength="18.4" lengthAdjust="spacingAndGlyphs">1年</text>
<text x="284.5" y="674.8" font-size="13" fill="#505050" textLength="18.4" lengthAdjust="spacingAndGlyphs">5年</text>
<text x="320.6" y="674.8" font-size="13" fill="#505050" textLength="37.5" lengthAdjust="spacingAndGlyphs">すべて</text>
<text x="387.5" y="674.8" font-size="13" fill="#505050" textLength="50.9" lengthAdjust="spacingAndGlyphs">日付指定</text>
<rect x="372" y="660" width="1" height="21" fill="#e3e3e3"/>
<text x="1137.4" y="676" font-size="12.7" fill="#505050" textLength="99.5" lengthAdjust="spacingAndGlyphs">10:42:13 (UTC+9)</text>
<rect x="1252" y="660" width="1" height="21" fill="#e3e3e3"/>
<text x="1265.5" y="676" font-size="14.5" fill="#505050" textLength="13.5" lengthAdjust="spacingAndGlyphs">%</text>
<text x="1294.5" y="674.8" font-size="13" fill="#505050" textLength="77.5" lengthAdjust="spacingAndGlyphs">ログスケール</text>
<text x="1391.5" y="674.8" font-size="13" fill="#2a8bd8" textLength="24" lengthAdjust="spacingAndGlyphs">自動</text>
<path d="M1445.78 669.93 L1448.14 670.05 L1448.14 671.95 L1445.78 672.07 L1445.53 672.88 L1445.14 673.63 L1446.72 675.38 L1445.38 676.72 L1443.63 675.14 L1442.88 675.53 L1442.07 675.78 L1441.95 678.14 L1440.05 678.14 L1439.93 675.78 L1439.12 675.53 L1438.37 675.14 L1436.62 676.72 L1435.28 675.38 L1436.86 673.63 L1436.47 672.88 L1436.22 672.07 L1433.86 671.95 L1433.86 670.05 L1436.22 669.93 L1436.47 669.12 L1436.86 668.37 L1435.28 666.62 L1436.62 665.28 L1438.37 666.86 L1439.12 666.47 L1439.93 666.22 L1440.05 663.86 L1441.95 663.86 L1442.07 666.22 L1442.88 666.47 L1443.63 666.86 L1445.38 665.28 L1446.72 666.62 L1445.14 668.37 L1445.53 669.12Z" fill="#4a4f57"/>
<circle cx="1441" cy="671" r="2.7" fill="#fff"/>
<path d="M1467.3 670.7V666.7H1471.3M1475.8 666.7H1479.8V670.7M1479.8 671.8V675.8H1475.8M1471.3 675.8H1467.3V671.8" fill="none" stroke="#2a8bd8" stroke-width="2"/>
</svg>
<div id="frame"></div>
</body></html>
